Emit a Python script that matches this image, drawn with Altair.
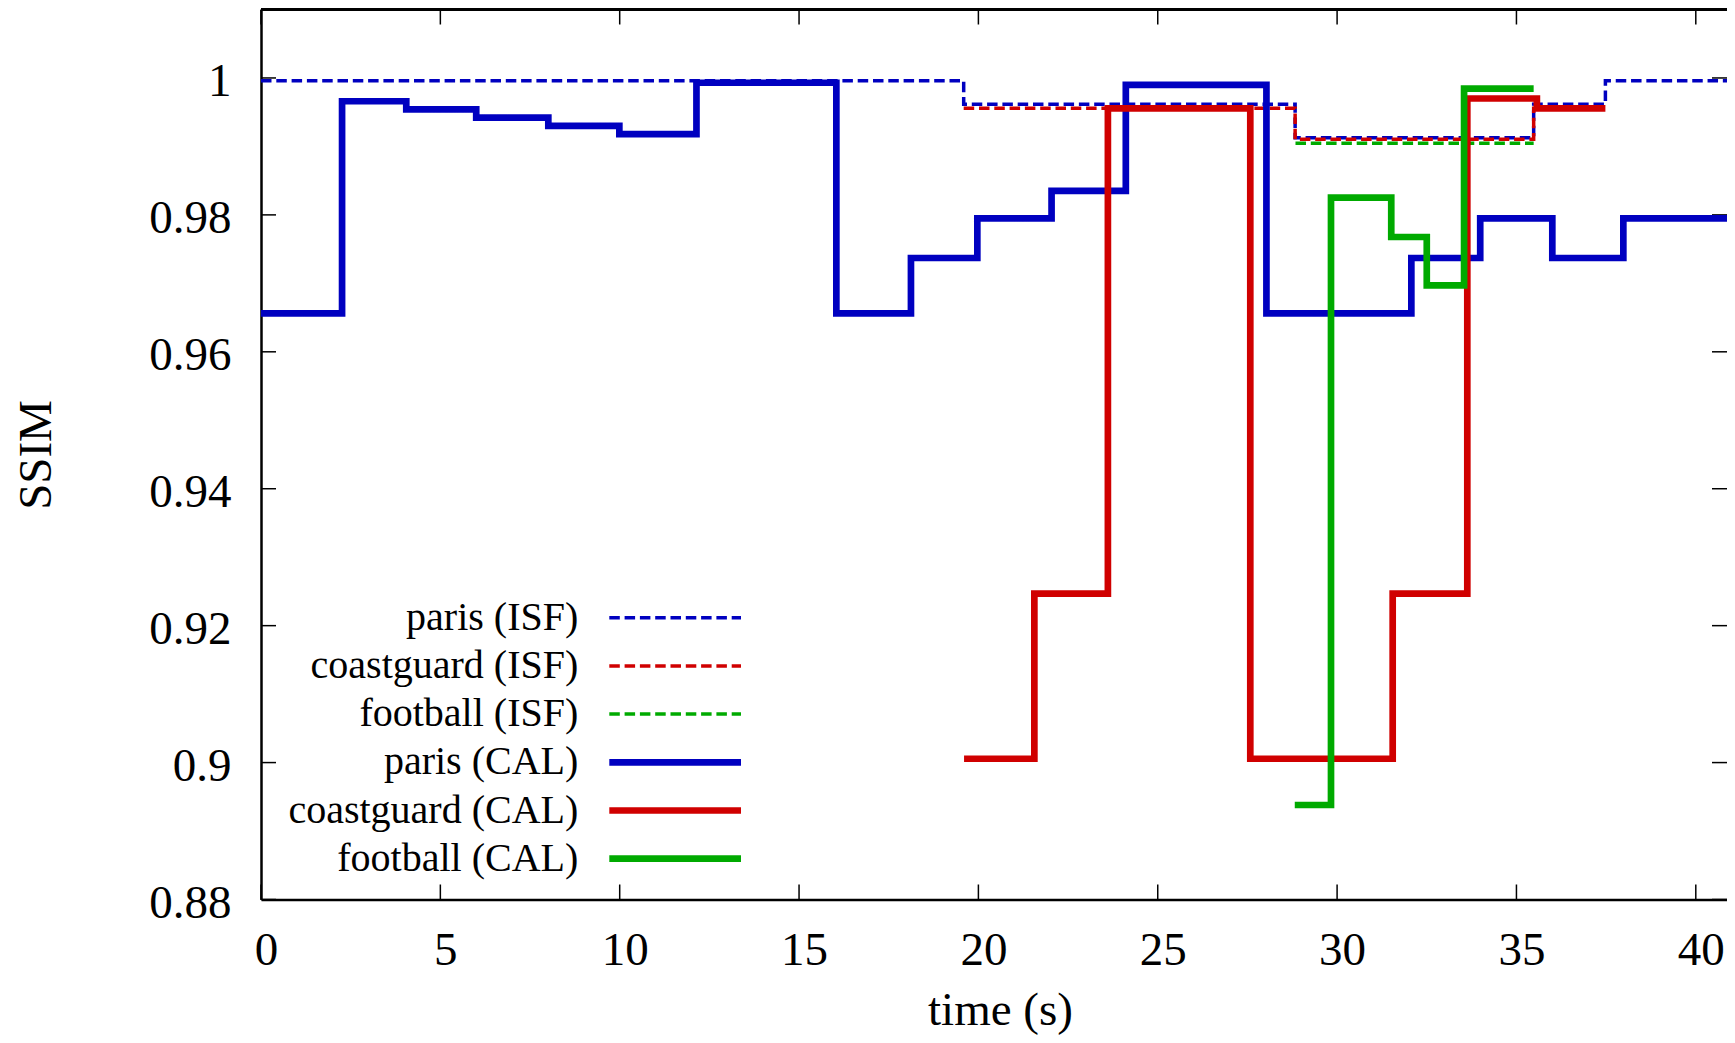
import altair as alt
import pandas as pd

# ---------------- data ----------------
series_order = ["paris (ISF)", "coastguard (ISF)", "football (ISF)",
                "paris (CAL)", "coastguard (CAL)", "football (CAL)"]
series_colors = ["#0000c0", "#d00000", "#00aa00",
                 "#0000c0", "#d00000", "#00aa00"]
series_kind = ["ISF", "ISF", "ISF", "CAL", "CAL", "CAL"]

paris_isf_t = [0, 19.59, 28.83, 35.48, 37.48, 42]
paris_isf_ssim = [0.9996, 0.99615, 0.99127, 0.99615, 0.9996, 0.9996]

coast_isf_t = [19.59, 28.83, 35.48, 37.48]
coast_isf_ssim = [0.99557, 0.99104, 0.99557, 0.99557]

football_isf_t = [28.84, 35.48]
football_isf_ssim = [0.99046, 0.99046]

paris_cal_t = [0, 2.26, 4.05, 6.0, 8.01, 9.99, 12.14, 16.04, 18.12, 19.97,
               22.04, 24.11, 28.03, 32.07, 33.99, 36.0, 37.98, 42]
paris_cal_ssim = [0.9656, 0.9966, 0.9954, 0.9942, 0.9930, 0.9918, 0.9993,
                  0.9656, 0.9737, 0.9795, 0.9835, 0.9990, 0.9656, 0.9737,
                  0.9795, 0.9737, 0.9795, 0.9795]

coast_cal_t = [19.6, 21.56, 23.61, 27.58, 31.55, 33.63, 35.57, 37.48]
coast_cal_ssim = [0.90056, 0.92467, 0.99557, 0.90056, 0.92467, 0.9970,
                  0.99557, 0.99557]

football_cal_t = [28.82, 29.83, 31.51, 32.50, 33.54, 35.48]
football_cal_ssim = [0.8938, 0.98251, 0.97677, 0.96971, 0.99843, 0.99843]

x_ticks = [0, 5, 10, 15, 20, 25, 30, 35, 40]
y_ticks = [0.88, 0.9, 0.92, 0.94, 0.96, 0.98, 1.0]

# ---------------- layout / style ----------------
W, H = 1466, 890
XMAX = 40.87
YMIN, YMAX = 0.88, 1.01
FONT = "Liberation Serif"
DASH = [10.5, 4.8]
W_ISF, W_CAL = 3.5, 6.7

series_data = {
    "paris (ISF)": (paris_isf_t, paris_isf_ssim),
    "coastguard (ISF)": (coast_isf_t, coast_isf_ssim),
    "football (ISF)": (football_isf_t, football_isf_ssim),
    "paris (CAL)": (paris_cal_t, paris_cal_ssim),
    "coastguard (CAL)": (coast_cal_t, coast_cal_ssim),
    "football (CAL)": (football_cal_t, football_cal_ssim),
}
frames = []
for name in series_order:
    ts, vs = series_data[name]
    frames.append(pd.DataFrame({"series": name, "time": ts, "ssim": vs}))
lines_df = pd.concat(frames, ignore_index=True)

x_scale = alt.Scale(domain=[0, XMAX], nice=False, zero=False)
y_scale = alt.Scale(domain=[YMIN, YMAX], nice=False, zero=False)
color_scale = alt.Scale(domain=series_order, range=series_colors)
dash_scale = alt.Scale(domain=series_order,
                       range=[DASH, DASH, DASH, [1, 0], [1, 0], [1, 0]])

x_axis = alt.Axis(values=x_ticks, format="d", title="time (s)",
                  ticks=False, tickSize=0, grid=False,
                  labelPadding=28, labelOffset=5, labelFlush=False,
                  labelOverlap=False, labelFont=FONT, labelFontSize=47,
                  labelColor="black", titleFont=FONT, titleFontSize=47,
                  titleFontWeight="normal", titleColor="black",
                  titleX=739, titleY=124.5, titleAlign="center",
                  titleBaseline="alphabetic", domainColor="black",
                  domainWidth=2.5)
y_axis = alt.Axis(values=y_ticks, format="~g", title="SSIM",
                  ticks=False, tickSize=0, grid=False,
                  labelPadding=30, labelOffset=4, labelFlush=False,
                  labelOverlap=False, labelFont=FONT, labelFontSize=47,
                  labelColor="black", titleFont=FONT, titleFontSize=47,
                  titleFontWeight="normal", titleColor="black",
                  titleX=-224.5, titleY=445, titleAngle=270,
                  titleAlign="center", titleBaseline="middle",
                  domainColor="black", domainWidth=2.5)


def xenc():
    return alt.X("time:Q", scale=x_scale, axis=x_axis)


def yenc():
    return alt.Y("ssim:Q", scale=y_scale, axis=y_axis)


xt_df = pd.DataFrame({"time": x_ticks})
yt_df = pd.DataFrame({"ssim": y_ticks})

TL = 15
bottom_ticks = alt.Chart(xt_df).mark_rule(color="black", strokeWidth=1.5).encode(
    x=xenc(), y=alt.value(H), y2=alt.value(H - TL))
top_ticks = alt.Chart(xt_df).mark_rule(color="black", strokeWidth=1.5).encode(
    x=xenc(), y=alt.value(0), y2=alt.value(TL))
left_ticks = alt.Chart(yt_df).mark_rule(color="black", strokeWidth=1.5).encode(
    y=yenc(), x=alt.value(0), x2=alt.value(TL))
right_ticks = alt.Chart(yt_df).mark_rule(color="black", strokeWidth=1.5).encode(
    y=yenc(), x=alt.value(W), x2=alt.value(W - TL))
top_frame = alt.Chart(xt_df).mark_rule(color="black", strokeWidth=2.5).encode(
    x=alt.value(0), x2=alt.value(W), y=alt.value(0))

series_layers = []
for name, kind in zip(series_order, series_kind):
    series_layers.append(
        alt.Chart(lines_df)
        .transform_filter(alt.datum.series == name)
        .mark_line(interpolate="step-after", clip=True,
                   strokeWidth=W_ISF if kind == "ISF" else W_CAL)
        .encode(
            x=xenc(), y=yenc(),
            color=alt.Color("series:N", scale=color_scale, legend=None),
            strokeDash=alt.StrokeDash("series:N", scale=dash_scale, legend=None),
        )
    )

inner = alt.layer(top_frame, bottom_ticks, top_ticks, left_ticks, right_ticks,
                  *series_layers)

# ---------------- gnuplot-style key inside the plot ----------------
leg_df = pd.DataFrame({"series": series_order, "kind": series_kind})
leg_y = alt.Y("series:N",
              scale=alt.Scale(type="point", domain=series_order,
                              range=[608.2, 849.2], padding=0),
              axis=None)
leg_text = alt.Chart(leg_df).mark_text(
    align="right", baseline="middle", font=FONT, fontSize=40, color="black"
).encode(x=alt.value(317.3), y=leg_y, text="series:N")
leg_isf = alt.Chart(leg_df).transform_filter(alt.datum.kind == "ISF").mark_rule(
    strokeWidth=W_ISF).encode(
    x=alt.value(348.3), x2=alt.value(480), y=leg_y,
    color=alt.Color("series:N", scale=color_scale, legend=None),
    strokeDash=alt.StrokeDash("series:N", scale=dash_scale, legend=None))
leg_cal = alt.Chart(leg_df).transform_filter(alt.datum.kind == "CAL").mark_rule(
    strokeWidth=W_CAL).encode(
    x=alt.value(348.3), x2=alt.value(480), y=leg_y,
    color=alt.Color("series:N", scale=color_scale, legend=None),
    strokeDash=alt.StrokeDash("series:N", scale=dash_scale, legend=None))
legend = alt.layer(leg_text, leg_isf, leg_cal)

chart = (
    alt.layer(inner, legend)
    .resolve_scale(y="independent")
    .properties(
        width=W, height=H,
        padding={"left": 253, "top": 1.5, "right": 0, "bottom": 135.5},
        autosize=alt.AutoSizeParams(type="none"),
        background="white",
    )
    .configure_view(strokeWidth=0)
)

chart.save("out.html", embed_options={"renderer": "svg", "actions": False})
